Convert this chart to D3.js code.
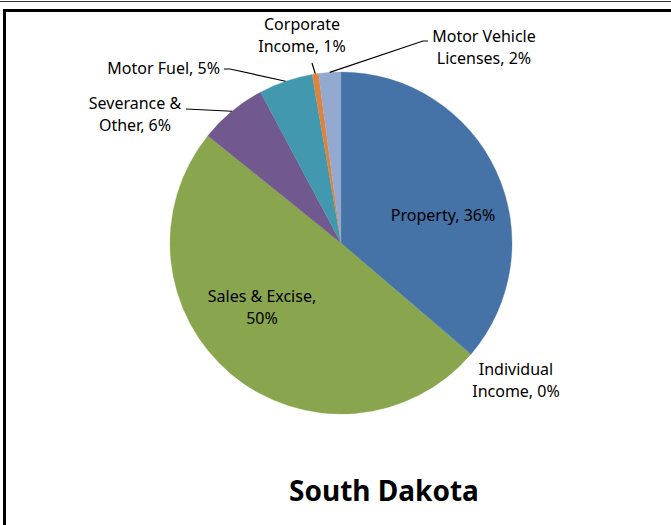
<!DOCTYPE html>
<html>
<head>
<meta charset="utf-8">
<script src="https://d3js.org/d3.v7.min.js"></script>
<style>
  body { margin: 0; background: #fff; }
  svg { display: block; font-family: "Noto Sans", sans-serif; }
</style>
</head>
<body>
<div id="chart"></div>
<script>
// data (clockwise from 12 o'clock)
const categories = ["Property", "Individual Income", "Sales & Excise", "Severance & Other",
                    "Motor Fuel", "Corporate Income", "Motor Vehicle Licenses"];
const shares = [36.2, 0.1, 49.5, 6.4, 5.1, 0.6, 2.1];
const labels = [["Property, 36%"], ["Individual", "Income, 0%"], ["Sales & Excise,", "50%"],
                ["Severance &", "Other, 6%"], ["Motor Fuel, 5%"], ["Corporate", "Income, 1%"],
                ["Motor Vehicle", "Licenses, 2%"]];
const colors = ["#4572a7", "#4572a7", "#89a54e", "#71588f", "#4198af", "#db843d", "#93a9cf"];

const W = 671, H = 525;
const cx = 341, cy = 243, R = 171;

// label placement: x,y of first line, anchor, and leader elbow (if any)
const labelLayout = {
  "Property":               {x: 443, y: 221, anchor: "middle"},
  "Individual Income":      {x: 516, y: 375, anchor: "middle"},
  "Sales & Excise":         {x: 262, y: 302, anchor: "middle"},
  "Severance & Other":      {x: 135, y: 109, anchor: "middle", line: [[186, 109]]},
  "Motor Fuel":             {x: 220, y: 74,  anchor: "end",    line: [[224, 69], [230, 69]]},
  "Corporate Income":       {x: 302, y: 30,  anchor: "middle", line: [[312, 63]]},
  "Motor Vehicle Licenses": {x: 484, y: 42,  anchor: "middle", line: [[428, 41], [423, 41]]}
};

const svg = d3.select("#chart").append("svg")
  .attr("width", W).attr("height", H);

svg.append("rect").attr("width", W).attr("height", H).attr("fill", "#fff");

// frame lines
svg.append("line").attr("x1", 0).attr("x2", W).attr("y1", 1.5).attr("y2", 1.5)
  .attr("stroke", "#333").attr("stroke-width", 1);
svg.append("path").attr("d", `M4.5,${H} V10.5 H${W}`)
  .attr("fill", "none").attr("stroke", "#000").attr("stroke-width", 3);

const data = categories.map((c, i) => ({cat: c, value: shares[i], color: colors[i], label: labels[i]}));

const pie = d3.pie().sort(null).value(d => d.value);
const arc = d3.arc().innerRadius(0).outerRadius(R);
const arcs = pie(data);

const g = svg.append("g").attr("transform", `translate(${cx},${cy})`);
g.selectAll("path.slice").data(arcs).join("path")
  .attr("class", "slice")
  .attr("d", arc)
  .attr("fill", d => d.data.color)
  .attr("stroke", d => d.data.color)
  .attr("stroke-width", 0.3);

// leader lines from slice edge to label
arcs.forEach(a => {
  const L = labelLayout[a.data.cat];
  if (!L.line) return;
  const mid = (a.startAngle + a.endAngle) / 2;
  const px = cx + R * Math.sin(mid), py = cy - R * Math.cos(mid);
  const pts = L.line.concat([[px, py]]);
  svg.append("path")
    .attr("d", d3.line()(pts))
    .attr("fill", "none").attr("stroke", "#000").attr("stroke-width", 1.2);
});

// labels
arcs.forEach(a => {
  const L = labelLayout[a.data.cat];
  const t = svg.append("text")
    .attr("x", L.x).attr("y", L.y)
    .attr("text-anchor", L.anchor)
    .attr("font-size", 16)
    .attr("fill", "#000");
  a.data.label.forEach((s, i) => {
    t.append("tspan").attr("x", L.x).attr("dy", i === 0 ? 0 : 22).text(s);
  });
});

svg.append("text")
  .attr("x", 384).attr("y", 501)
  .attr("text-anchor", "middle")
  .attr("font-size", 28).attr("font-weight", "bold")
  .text("South Dakota");
</script>
</body>
</html>
